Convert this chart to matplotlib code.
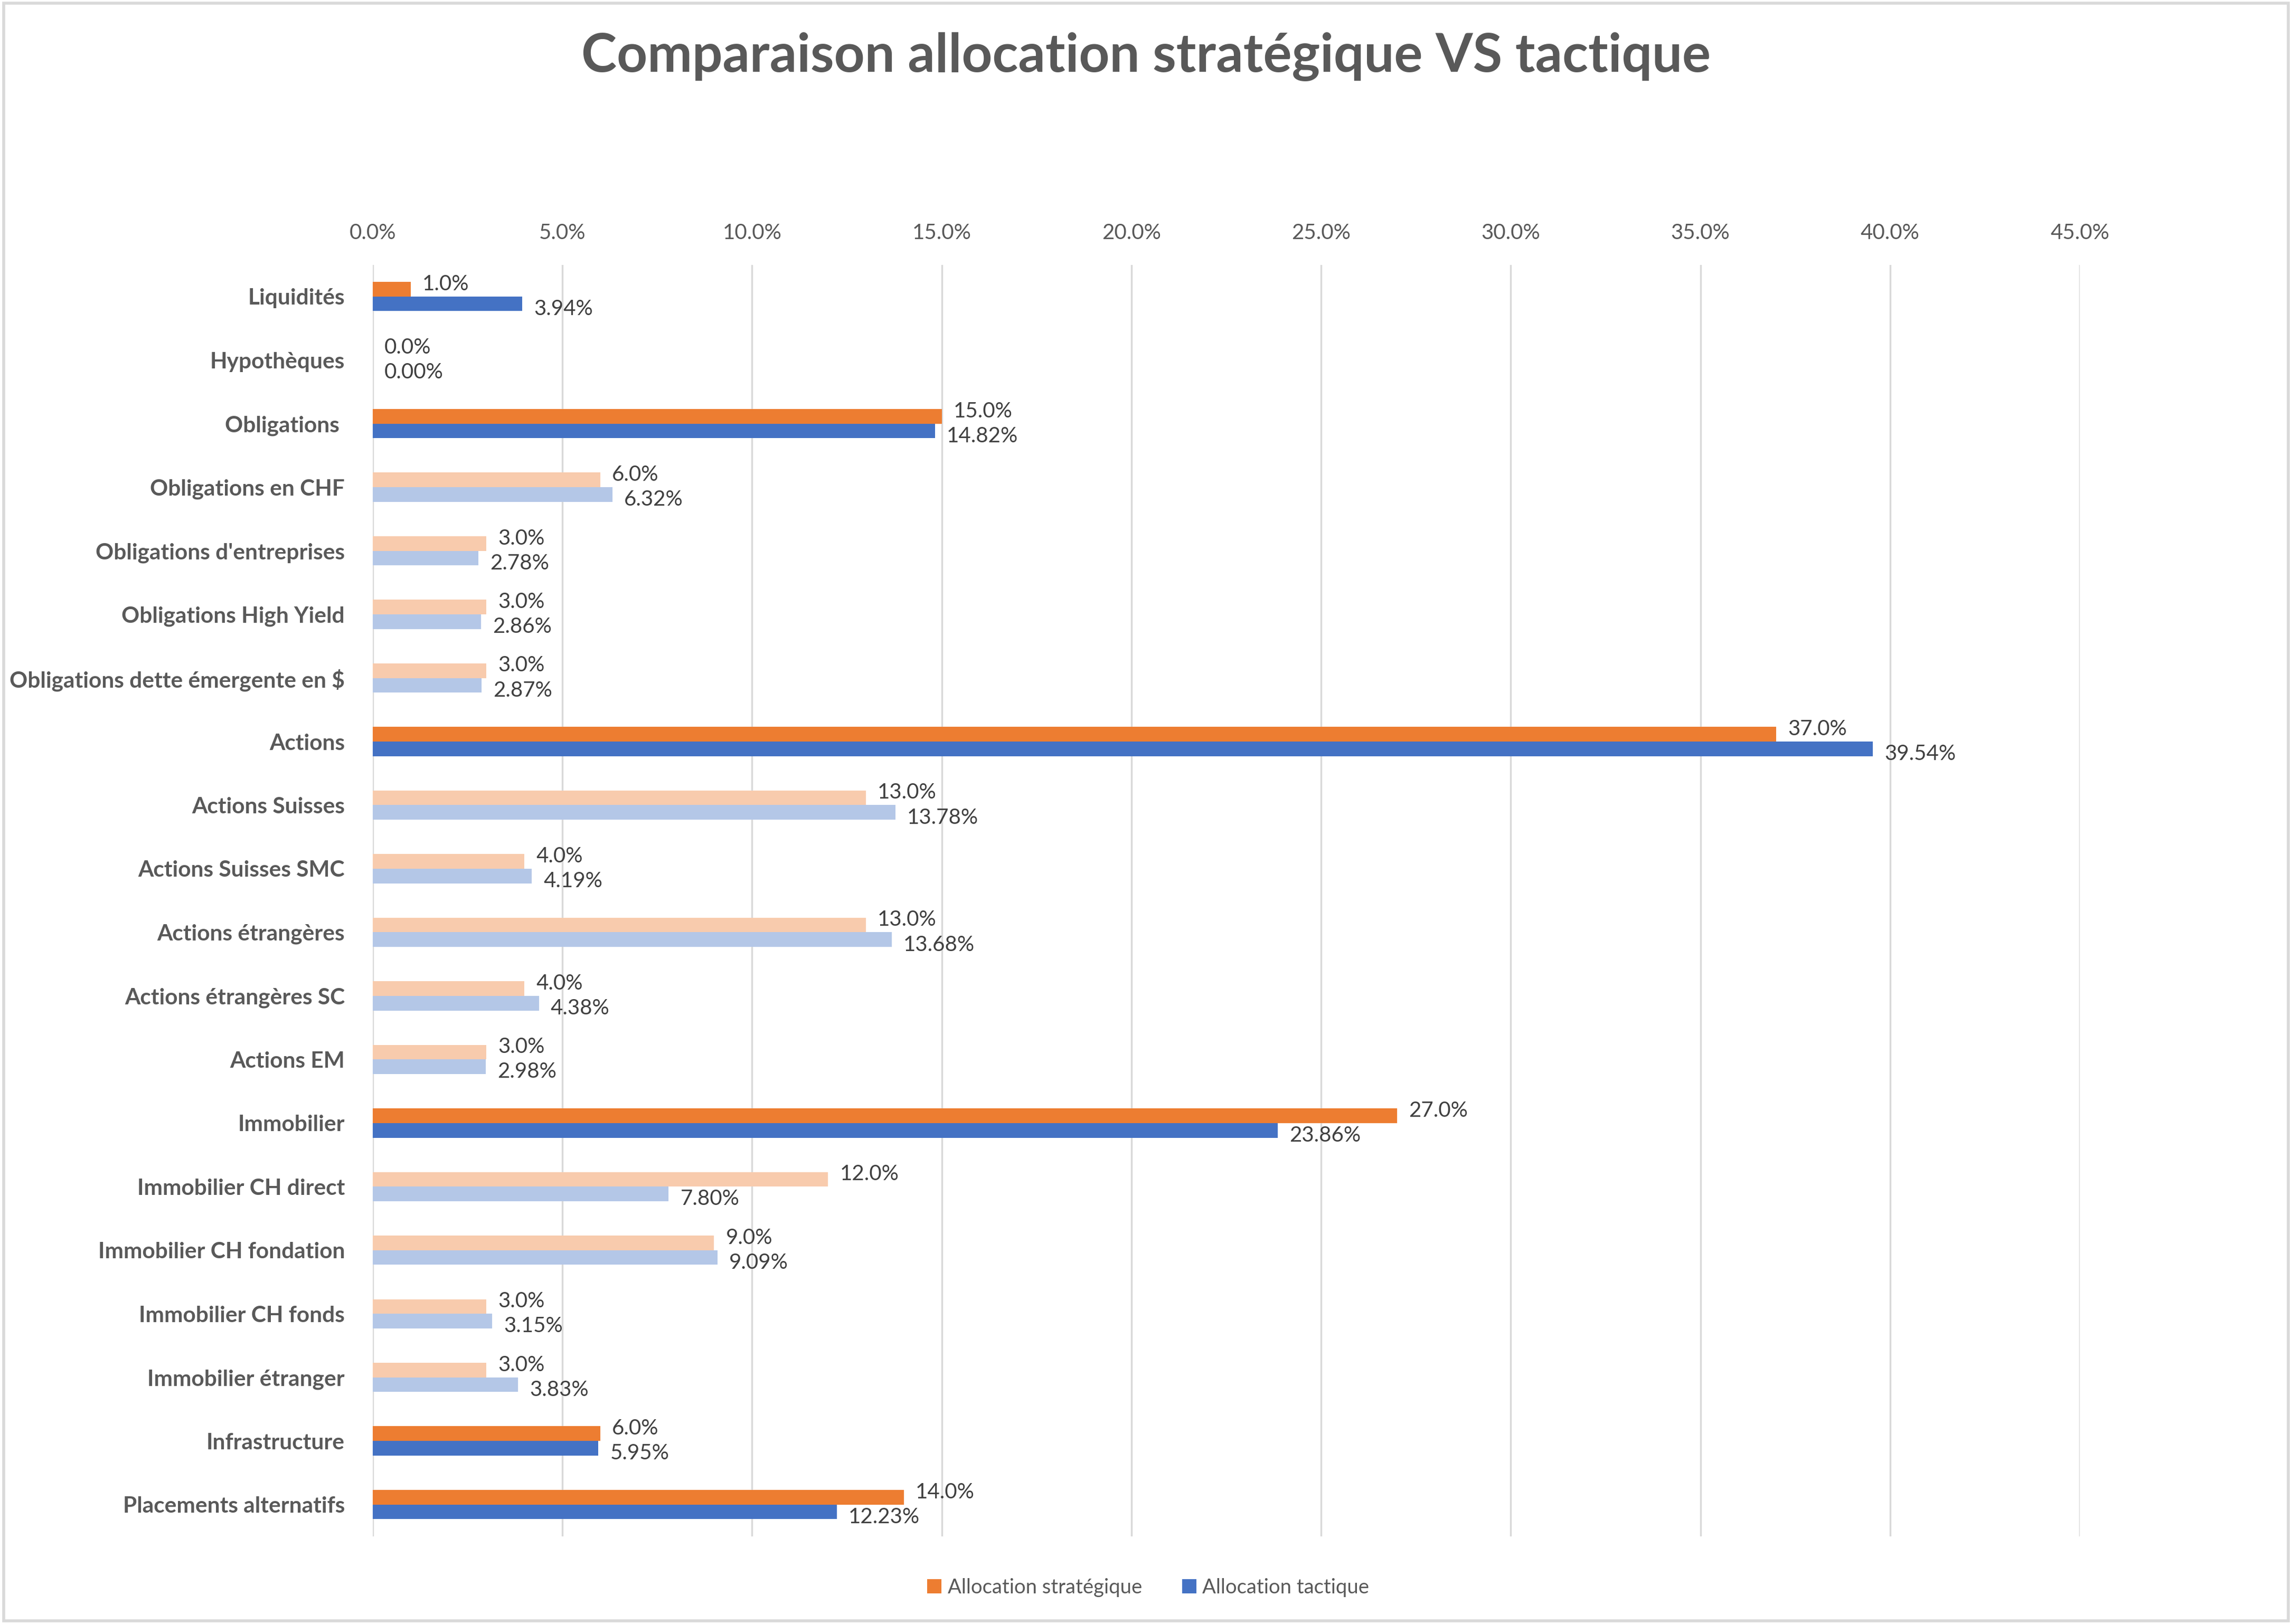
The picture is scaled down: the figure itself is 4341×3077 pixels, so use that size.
import numpy as np
import matplotlib.pyplot as plt
from matplotlib.patches import Rectangle

plt.rcParams['font.family'] = ['Lato', 'DejaVu Sans']

# categories du haut vers le bas
categories = ['Liquidités', 'Hypothèques', 'Obligations ', 'Obligations en CHF',
              "Obligations d'entreprises", 'Obligations High Yield',
              'Obligations dette émergente en $', 'Actions', 'Actions Suisses',
              'Actions Suisses SMC', 'Actions étrangères', 'Actions étrangères SC',
              'Actions EM', 'Immobilier', 'Immobilier CH direct',
              'Immobilier CH fondation', 'Immobilier CH fonds', 'Immobilier étranger',
              'Infrastructure', 'Placements alternatifs']
strategique = [1.0, 0.0, 15.0, 6.0, 3.0, 3.0, 3.0, 37.0, 13.0, 4.0, 13.0, 4.0,
               3.0, 27.0, 12.0, 9.0, 3.0, 3.0, 6.0, 14.0]
tactique = [3.94, 0.00, 14.82, 6.32, 2.78, 2.86, 2.87, 39.54, 13.78, 4.19, 13.68,
            4.38, 2.98, 23.86, 7.80, 9.09, 3.15, 3.83, 5.95, 12.23]
# 1 = classe principale, 2 = sous-classe
niveau = [1, 1, 1, 2, 2, 2, 2, 1, 2, 2, 2, 2, 2, 1, 2, 2, 2, 2, 1, 1]
x_ticks = [0, 5, 10, 15, 20, 25, 30, 35, 40, 45]

orange, orange_pale = '#ED7D31', '#F8CBAD'
bleu, bleu_pale = '#4472C4', '#B4C7E7'
gris = '#595959'

fig = plt.figure(figsize=(43.41, 30.77), dpi=100)
ax = fig.add_axes([0.1626, 0.054, 0.7448, 0.783])

y = np.arange(len(categories))
h = 0.23
c_strat = [orange if n == 1 else orange_pale for n in niveau]
c_tact = [bleu if n == 1 else bleu_pale for n in niveau]
ax.barh(y - h / 2, strategique, height=h, color=c_strat, label='Allocation stratégique', zorder=3)
ax.barh(y + h / 2, tactique, height=h, color=c_tact, label='Allocation tactique', zorder=3)

for i in range(len(categories)):
    ax.annotate(f'{strategique[i]:.1f}%', (strategique[i], y[i] - h / 2),
                xytext=(16, 7), textcoords='offset points', va='center', ha='left',
                fontsize=29, color='#404040')
    ax.annotate(f'{tactique[i]:.2f}%', (tactique[i], y[i] + h / 2),
                xytext=(16, -7), textcoords='offset points', va='center', ha='left',
                fontsize=29, color='#404040')

ax.set_xlim(0, 45)
ax.set_ylim(len(categories) - 0.5, -0.5)
ax.set_xticks(x_ticks)
ax.set_xticklabels([f'{v:.1f}%' for v in x_ticks])
ax.xaxis.tick_top()
ax.set_yticks(y)
ax.set_yticklabels(categories, fontweight='bold')
ax.tick_params(axis='x', length=0, pad=30, labelsize=29, labelcolor=gris)
ax.tick_params(axis='y', length=0, pad=38, labelsize=30.5, labelcolor=gris)
ax.grid(axis='x', color='#D9D9D9', linewidth=2.5, zorder=0)
for s in ax.spines.values():
    s.set_visible(False)

fig.suptitle('Comparaison allocation stratégique VS tactique', y=0.965, va='center',
             fontsize=73, fontweight='bold', color=gris)
fig.legend(loc='center', bbox_to_anchor=(0.501, 0.0225), ncol=2, frameon=False,
           fontsize=27.5, labelcolor=gris, handlelength=0.7, handleheight=0.7,
           handletextpad=0.3, columnspacing=2.0)

fig.patches.append(Rectangle((0.0015, 0.002), 0.997, 0.996, transform=fig.transFigure,
                             fill=False, edgecolor='#D9D9D9', linewidth=4))

plt.savefig('out.png', dpi=100)
